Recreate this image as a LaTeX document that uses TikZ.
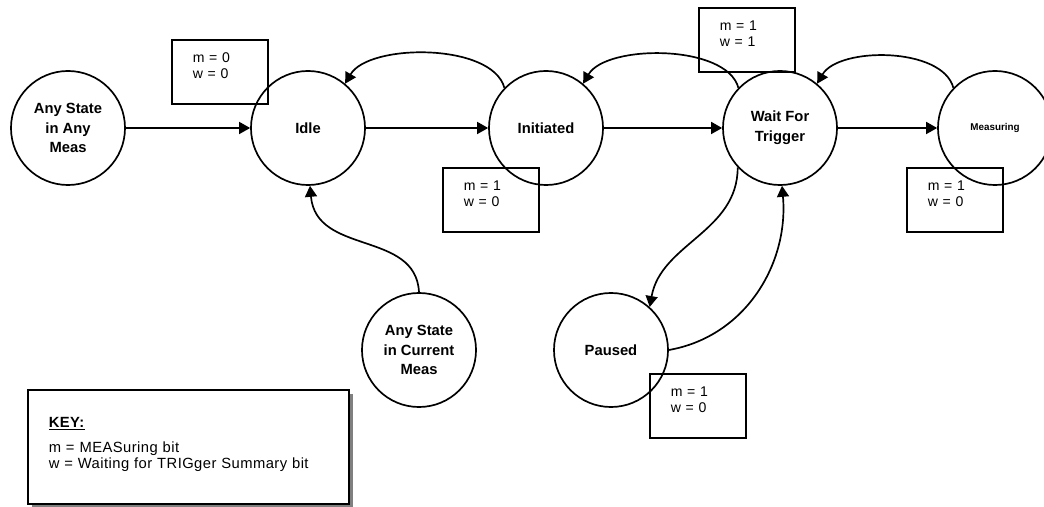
\documentclass[tikz,border=0pt]{standalone}
\usepackage{fontspec}
\setmainfont{Liberation Sans}
\usetikzlibrary{arrows.meta,shadows}
\definecolor{keygray}{HTML}{808080}

\begin{document}
\begin{tikzpicture}[x=0.025cm,y=0.025cm,
  state/.style={draw,circle,line width=1.2pt,minimum size=2.85cm,inner sep=0pt,
    align=center,font=\fontsize{10.5}{14}\selectfont\bfseries},
  bits/.style={draw,line width=1.1pt,anchor=north west,align=left,
    inner xsep=0.525cm,inner ysep=0pt,text width=1.35cm,
    text height=0.575cm,text depth=1.025cm,font=\fontsize{10}{11.5}\selectfont},
  keybox/.style={draw,line width=1.1pt,fill=white,anchor=north west,align=left,
    inner xsep=0.525cm,inner ysep=0pt,text width=6.975cm,
    text height=0.95cm,text depth=1.9cm,
    font=\fontsize{10.5}{10.8}\selectfont\addfontfeature{LetterSpace=3},
    drop shadow={shadow xshift=0.1cm,shadow yshift=-0.1cm,fill=keygray,opacity=1}},
  flow/.style={line width=1.2pt,-{Triangle[length=0.275cm,width=0.3cm]}}]
  \useasboundingbox (0,0) rectangle (1044,506);

  % states
  \node[state] (anym) at (68,378) {Any State\\in Any\\Meas};
  \node[state] (idle) at (308,378) {Idle};
  \node[state] (init) at (546,378) {Initiated};
  \node[state] (wait) at (780,378) {Wait For\\Trigger};
  \node[state,font=\fontsize{7}{8}\selectfont\bfseries] (meas) at (995,378) {Measuring};
  \node[state] (curm) at (419,156) {Any State\\in Current\\Meas};
  \node[state] (paused) at (611,156) {Paused};

  % status bits
  \node[bits] (idlebits) at (171,467) {m = 0\\w = 0};
  \node[bits] (initbits) at (442,339) {m = 1\\w = 0};
  \node[bits] (waitbits) at (698,499) {m = 1\\w = 1};
  \node[bits] (measbits) at (906,339) {m = 1\\w = 0};
  \node[bits] (pausebits) at (649,133) {m = 1\\w = 0};

  % key
  \node[keybox] (key) at (27,117) {\underline{\textbf{KEY:}}\\[0.25cm]
    m = MEASuring bit\\w = Waiting for TRIGger Summary bit};

  % transitions
  \draw[flow] (anym) -- (idle);
  \draw[flow] (idle) -- (init);
  \draw[flow] (init) -- (wait);
  \draw[flow] (wait) -- (meas);
  \draw[flow] (init.136) to[out=105,in=60,looseness=0.75] (idle.50);
  \draw[flow] (wait.136) to[out=105,in=60,looseness=0.75] (init.50);
  \draw[flow] (meas.136) to[out=105,in=60,looseness=0.8] (wait.50);
  \draw[flow] (curm.north) to[out=93,in=-85,out distance=1.55cm,in distance=1.75cm] (idle.272);
  \draw[flow] (wait.223) to[out=-90,in=80] (paused.48);
  \draw[flow] (paused.0) to[out=10,in=-85] (wait.272);
\end{tikzpicture}
\end{document}
